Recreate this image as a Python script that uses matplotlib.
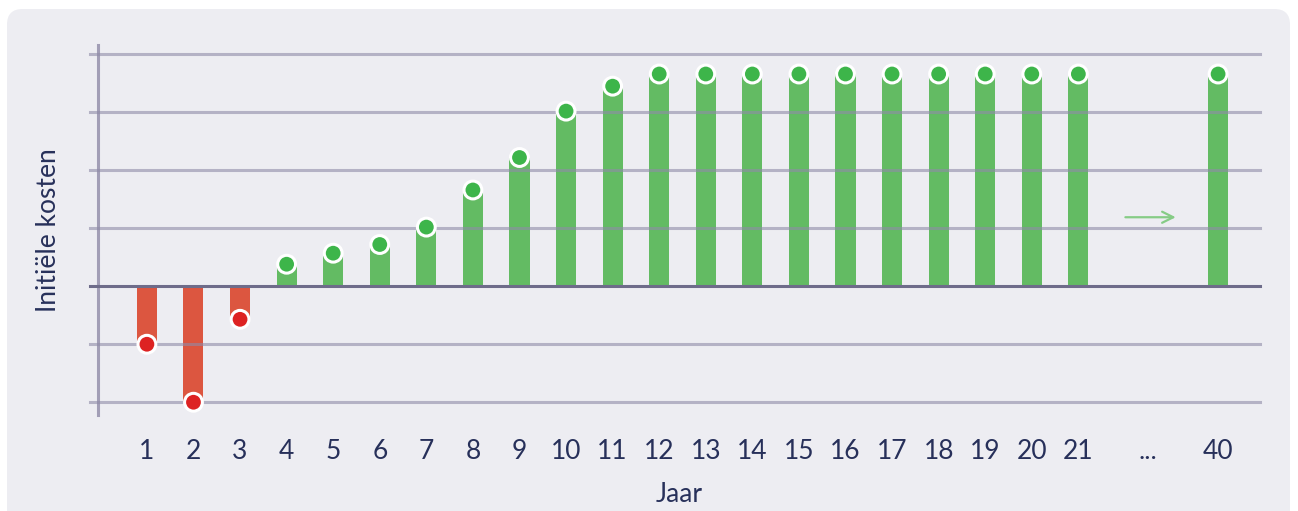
import matplotlib.pyplot as plt
from matplotlib.patches import FancyBboxPatch

# Data (grid units, one gridline = one unit)
years = ["1", "2", "3", "4", "5", "6", "7", "8", "9", "10", "11",
         "12", "13", "14", "15", "16", "17", "18", "19", "20", "21", "40"]
positions = list(range(1, 22)) + [24]
values = [-1.0, -2.0, -0.57, 0.38, 0.57, 0.72, 1.02, 1.66, 2.22, 3.02, 3.45,
          3.66, 3.66, 3.66, 3.66, 3.66, 3.66, 3.66, 3.66, 3.66, 3.66, 3.66]
gap_label = "..."
gap_pos = 22.5

BG = "#ededf2"
TEXT = "#27305a"
RED_BAR, RED_DOT = "#dc5640", "#dd2222"
GREEN_BAR, GREEN_DOT = "#63bb63", "#3db54a"

plt.rcParams['font.family'] = ['Lato', 'DejaVu Sans']

fig = plt.figure(figsize=(12.98, 5.11), dpi=100)
fig.patch.set_facecolor("white")

# rounded card behind the chart
card = FancyBboxPatch((7 / 1298, -0.1), 1290 / 1298 - 7 / 1298, 1.1 - 9 / 511,
                      boxstyle="round,pad=0,rounding_size=0.012",
                      transform=fig.transFigure, facecolor=BG, edgecolor="none",
                      mutation_aspect=1298 / 511, zorder=-5)
fig.patches.append(card)

ax = fig.add_axes([98 / 1298, 1 - 415 / 511, (1260 - 98) / 1298, (415 - 45) / 511])
ax.set_facecolor("none")
ax.set_xlim(-0.05, 24.9)
ax.set_ylim(-2.22, 4.16)

bar_colors = [RED_BAR if v < 0 else GREEN_BAR for v in values]
dot_colors = [RED_DOT if v < 0 else GREEN_DOT for v in values]
ax.bar(positions, values, width=0.43, color=bar_colors, zorder=2)

# gridlines on top of the bars, a bit transparent
for y in [-2, -1, 1, 2, 3, 4]:
    ax.axhline(y, color="#8f8ba8", lw=2.2, alpha=0.6, zorder=3, clip_on=False,
               xmin=-0.007, xmax=1)
ax.axhline(0, color="#6e6c8a", lw=2.2, zorder=3, xmin=-0.007, xmax=1, clip_on=False)

ax.scatter(positions, values, s=165, color=dot_colors, edgecolor="white",
           linewidth=2.2, zorder=4)

# arrow between 21 and 40
ax.annotate("", xy=(23.15, 1.19), xytext=(21.95, 1.19),
            arrowprops=dict(arrowstyle="->", color="#86cc86", lw=1.6,
                            mutation_scale=20))

for s in ["top", "right", "bottom"]:
    ax.spines[s].set_visible(False)
ax.spines["left"].set_color("#8f8ba8")
ax.spines["left"].set_linewidth(2.2)
ax.spines["left"].set_alpha(0.8)

ax.set_yticks([])
ax.set_xticks(positions + [gap_pos])
ax.set_xticklabels(years + [gap_label])
ax.tick_params(axis="x", length=0, pad=17, labelsize=19, labelcolor=TEXT)

ax.set_xlabel("Jaar", color=TEXT, fontsize=19, labelpad=13)
ax.set_ylabel("Initiële kosten", color=TEXT, fontsize=19, labelpad=27)

fig.savefig("out.png", dpi=100, facecolor=fig.get_facecolor())
